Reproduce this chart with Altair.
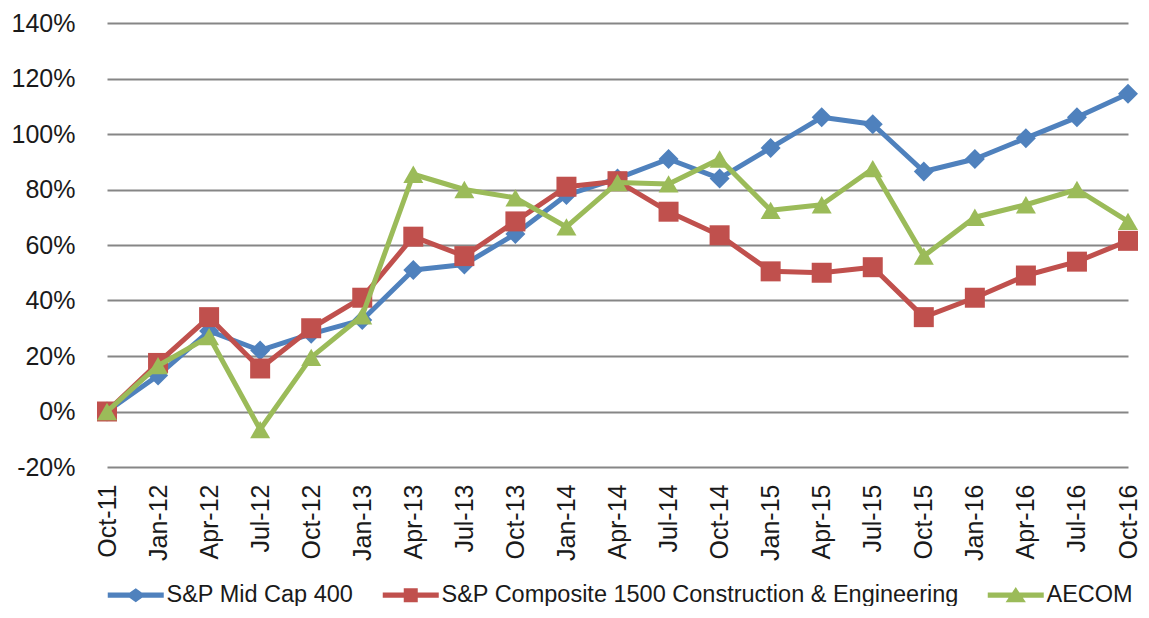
import altair as alt
import pandas as pd

# ---- data ----
dates = ["Oct-11", "Jan-12", "Apr-12", "Jul-12", "Oct-12", "Jan-13", "Apr-13",
         "Jul-13", "Oct-13", "Jan-14", "Apr-14", "Jul-14", "Oct-14", "Jan-15",
         "Apr-15", "Jul-15", "Oct-15", "Jan-16", "Apr-16", "Jul-16", "Oct-16"]
series_names = ["S&P Mid Cap 400",
                "S&P Composite 1500 Construction & Engineering",
                "AECOM"]
midcap_400 = [0, 13, 29, 22, 28, 33, 51, 53, 64, 78, 84, 91, 84, 95,
              106, 103.5, 86.5, 91, 98.5, 106, 114.5]
construction_1500 = [0, 17.5, 34, 15.5, 30, 41, 63, 56, 68.5, 81, 83, 72, 63.5, 50.5,
                     50, 52, 34, 41, 49, 54, 61.5]
aecom = [0, 16.5, 27, -6.5, 19.5, 34.5, 85.5, 80, 77, 66.5, 82.5, 82, 91, 72.5,
         74.5, 87.5, 56, 70, 74.5, 80, 68.5]
y_ticks = [-0.2, 0, 0.2, 0.4, 0.6, 0.8, 1.0, 1.2, 1.4]

# ---- styles ----
colors = ["#4F81BD", "#C0504D", "#9BBB59"]
shapes = ["diamond", "square", "triangle-up"]
FONT = "Liberation Sans, Arial, Helvetica, sans-serif"
TEXT = "#1a1a1a"
GRID = "#868686"

line_part = "M-4,-0.36L4,-0.36L4,0.36L-4,0.36Z"
legend_paths = [
    line_part + "M-1.4,0L0,-1L1.4,0L0,1Z",
    line_part + "M-1,-1L1,-1L1,1L-1,1Z",
    line_part + "M0,-1.15L1.45,1L-1.45,1Z",
]

rows = []
for name, vals in zip(series_names, [midcap_400, construction_1500, aecom]):
    for d, v in zip(dates, vals):
        rows.append({"date": d, "series": name, "value": v / 100.0})
df = pd.DataFrame(rows)

x_enc = alt.X("date:O", sort=dates,
              scale=alt.Scale(type="point", domain=dates, range=[9, 1030], padding=0),
              axis=alt.Axis(title=None, labelAngle=270, ticks=False, tickSize=0, domain=False,
                            grid=False, labelPadding=17, labelFont=FONT, labelFontSize=25,
                            labelColor=TEXT))
y_enc = alt.Y("value:Q",
              scale=alt.Scale(domain=[-0.2, 1.4], nice=False, zero=False),
              axis=alt.Axis(title=None, values=y_ticks, format=".0%", ticks=False, tickSize=0,
                            labelExpr="replace(datum.label, '\u2212', '-')",
                            domain=False, grid=True, gridColor=GRID, gridWidth=2,
                            labelPadding=23, labelFont=FONT, labelFontSize=25,
                            labelColor=TEXT))

legend = alt.Legend(
    title=None, orient="none", legendX=26, legendY=560, direction="horizontal",
    symbolSize=196, labelOffset=19, columnPadding=28, labelLimit=1000,
    labelFont=FONT, labelFontSize=23.5, labelColor=TEXT,
    symbolOpacity=1, symbolStrokeWidth=0,
)

base = alt.Chart(df)
layers = []
for name, col, shp in zip(series_names, colors, shapes):
    sub = base.transform_filter(alt.datum.series == name)
    layers.append(
        sub.mark_line(strokeWidth=5, strokeJoin="round", color=col).encode(x=x_enc, y=y_enc)
    )
    layers.append(
        sub.mark_point(filled=True, size=400, opacity=1, shape=shp, color=col)
        .encode(x=x_enc, y=y_enc)
    )

# legend-only layer (no marks drawn; entries come from the explicit scale domains)
legend_layer = base.transform_filter("false").mark_point(filled=True, opacity=1).encode(
    x=x_enc, y=y_enc,
    color=alt.Color("series:N", scale=alt.Scale(domain=series_names, range=colors),
                    legend=legend),
    shape=alt.Shape("series:N", scale=alt.Scale(domain=series_names, range=legend_paths),
                    legend=legend),
)
layers.append(legend_layer)

chart = alt.layer(*layers).properties(
    width=1043, height=444,
    padding={"left": 90, "top": 15, "right": 0, "bottom": 139},
    autosize=alt.AutoSizeParams(type="none"),
).configure_view(stroke=None)

chart.save("out.html", embed_options={"renderer": "svg", "actions": False})
